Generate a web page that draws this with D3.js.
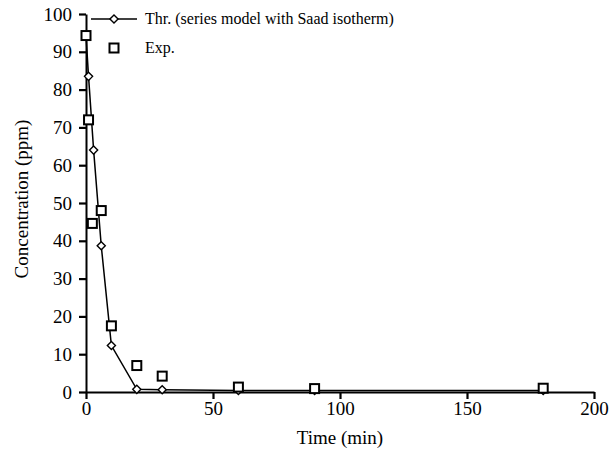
<!DOCTYPE html>
<html><head><meta charset="utf-8">
<script src="https://cdn.jsdelivr.net/npm/d3@7"></script>
<style>body{margin:0;background:#fff}svg{display:block}text{font-family:"Liberation Serif","Times New Roman",serif;fill:#000}</style>
</head><body><svg id="c" width="610" height="453"></svg>
<script>
const thrTime = [0, 1, 3, 6, 10, 20, 30, 60, 90, 180];
const thrConc = [94.3, 83.5, 64, 38.7, 12.3, 0.7, 0.6, 0.4, 0.4, 0.4];
const expTime = [0, 1, 2.5, 6, 10, 20, 30, 60, 90, 180];
const expConc = [94.3, 72, 44.6, 48, 17.5, 7, 4.2, 1.3, 0.9, 1.0];
const xTicks = [0, 50, 100, 150, 200];
const yTicks = [0, 10, 20, 30, 40, 50, 60, 70, 80, 90, 100];
const labels = ["Thr. (series model with Saad isotherm)", "Exp."];

const FF = '"Liberation Serif","Times New Roman",serif';
const svg = d3.select("#c");
const x = d3.scaleLinear().domain([0, 200]).range([86, 594]);
const y = d3.scaleLinear().domain([0, 100]).range([392, 14]);

const fs = 19;
const gx = svg.append("g").attr("transform", "translate(0,392)")
  .call(d3.axisBottom(x).tickValues(xTicks).tickSize(7).tickSizeOuter(0).tickPadding(3));
const gy = svg.append("g").attr("transform", "translate(86,0)")
  .call(d3.axisLeft(y).tickValues(yTicks).tickSize(7).tickSizeOuter(0).tickPadding(7));
[gx, gy].forEach(g => {
  g.attr("font-family", FF).attr("font-size", fs);
  g.selectAll("path.domain").attr("stroke", "#000").attr("stroke-width", 2);
  g.selectAll(".tick line").attr("stroke", "#000").attr("stroke-width", 2.2);
  g.selectAll(".tick text").style("font-family", FF).style("font-size", fs + "px").attr("fill", "#000");
});

svg.append("text").attr("x", 340).attr("y", 444).attr("text-anchor", "middle").style("font-size", fs + "px").text("Time (min)");
svg.append("text").attr("transform", "translate(28,199) rotate(-90)").attr("text-anchor", "middle").style("font-size", fs + "px").text("Concentration (ppm)");

const thr = thrTime.map((t, i) => [t, thrConc[i]]);
const exp = expTime.map((t, i) => [t, expConc[i]]);

svg.append("path").datum(thr)
  .attr("d", d3.line().x(d => x(d[0])).y(d => y(d[1])))
  .attr("fill", "none").attr("stroke", "#000").attr("stroke-width", 1.5);

const diamond = d3.symbol().type(d3.symbolDiamond2).size(42);
function drawDiamond(cx, cy) {
  svg.append("path").attr("d", diamond()).attr("transform", `translate(${cx},${cy})`)
    .attr("fill", "#fff").attr("stroke", "#000").attr("stroke-width", 1.4);
}
function drawSquare(cx, cy) {
  svg.append("rect").attr("x", cx - 4.5).attr("y", cy - 4.5).attr("width", 9).attr("height", 9)
    .attr("fill", "#fff").attr("stroke", "#000").attr("stroke-width", 2);
}
thr.forEach(d => drawDiamond(x(d[0]), y(d[1])));
exp.forEach(d => drawSquare(x(d[0]), y(d[1])));

// legend
svg.append("line").attr("x1", 91).attr("x2", 137).attr("y1", 19).attr("y2", 19).attr("stroke", "#000").attr("stroke-width", 1.5);
drawDiamond(114, 19);
drawSquare(114, 48);
svg.append("text").attr("x", 145).attr("y", 24).style("font-size", "16px").text(labels[0]);
svg.append("text").attr("x", 145).attr("y", 53).style("font-size", "16px").text(labels[1]);
</script></body></html>
